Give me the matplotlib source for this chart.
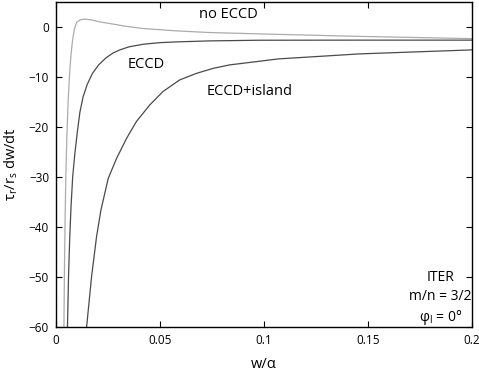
import matplotlib
matplotlib.use("Agg")
import matplotlib.pyplot as plt

# values
w_no_eccd = [0.0038, 0.0040, 0.0043, 0.0047, 0.0052, 0.0058, 0.0065, 0.0072,
             0.0080, 0.0088, 0.0099, 0.0115, 0.0139, 0.0170, 0.0210, 0.0259,
             0.0330, 0.0419, 0.0579, 0.0739, 0.0978, 0.146, 0.2]
v_no_eccd = [-60, -50, -40, -30, -22, -15, -9.5, -5.5,
             -2.5, -0.5, 0.9, 1.4, 1.55, 1.4, 1.0, 0.67,
             0.15, -0.33, -0.8, -1.13, -1.4, -1.9, -2.35]

w_eccd = [0.0055, 0.0060, 0.0066, 0.0072, 0.0080, 0.0090, 0.0103, 0.0115,
          0.0130, 0.0150, 0.0175, 0.0205, 0.0240, 0.0275, 0.0307, 0.0350,
          0.0419, 0.0500, 0.0579, 0.0739, 0.0978, 0.146, 0.2]
v_eccd = [-60, -50, -42, -36, -30, -25.5, -20.8, -17,
          -14, -11.5, -9.3, -7.6, -6.2, -5.2, -4.6, -4.0,
          -3.47, -3.15, -3.0, -2.8, -2.67, -2.65, -2.65]

w_island = [0.0147, 0.0171, 0.0195, 0.0216, 0.0251, 0.0291, 0.0339, 0.0387,
            0.0451, 0.0515, 0.0595, 0.0675, 0.0755, 0.0835, 0.107, 0.146, 0.2]
v_island = [-60, -49.9, -41.9, -36.6, -30.3, -26.3, -22.3, -18.9,
            -15.6, -12.9, -10.6, -9.3, -8.3, -7.6, -6.4, -5.4, -4.6]

xticks = [0, 0.05, 0.1, 0.15, 0.2]
xticklabels = ["0", "0.05", "0.1", "0.15", "0.2"]
yticks = [-60, -50, -40, -30, -20, -10, 0]


def main():
    plt.rcParams['font.family'] = ['Open Sans', 'DejaVu Sans']
    plt.rcParams['mathtext.fontset'] = 'custom'
    plt.rcParams['mathtext.rm'] = 'Open Sans'
    plt.rcParams['mathtext.it'] = 'Open Sans'

    fig = plt.figure(figsize=(4.79, 3.75), dpi=100)
    ax = fig.add_axes([0.117, 0.128, 0.868, 0.867])

    ax.plot(w_no_eccd, v_no_eccd, color='#acacac', lw=0.9)
    ax.plot(w_eccd, v_eccd, color='#4a4a4a', lw=0.9)
    ax.plot(w_island, v_island, color='#4a4a4a', lw=0.9)

    ax.set_xlim(0, 0.2)
    ax.set_ylim(-60, 5)
    ax.set_xticks(xticks)
    ax.set_xticklabels(xticklabels)
    ax.set_yticks(yticks)
    ax.tick_params(direction='in', top=True, right=True, labelsize=8.5,
                   length=4, width=0.8, pad=5)
    for s in ax.spines.values():
        s.set_linewidth(1.0)

    ax.text(0.083, 2.5, "no ECCD", fontsize=10.5, ha='center', va='center')
    ax.text(0.0435, -7.6, "ECCD", fontsize=10.5, ha='center', va='center')
    ax.text(0.093, -13.0, "ECCD+island", fontsize=10.5, ha='center', va='center')
    ax.text(0.185, -50.2, "ITER", fontsize=10, ha='center', va='center')
    ax.text(0.185, -54.0, "m/n = 3/2", fontsize=10, ha='center', va='center')
    ax.text(0.185, -58.2, r"$\mathrm{\varphi_l}$ = 0°", fontsize=10,
            ha='center', va='center')

    ax.set_xlabel("w/α", fontsize=10.5, labelpad=7)
    ax.set_ylabel(r"$\mathrm{\tau_r/r_s}$ dw/dt", fontsize=10.5, labelpad=6)

    fig.savefig("out.png", dpi=100)


if __name__ == "__main__":
    main()
